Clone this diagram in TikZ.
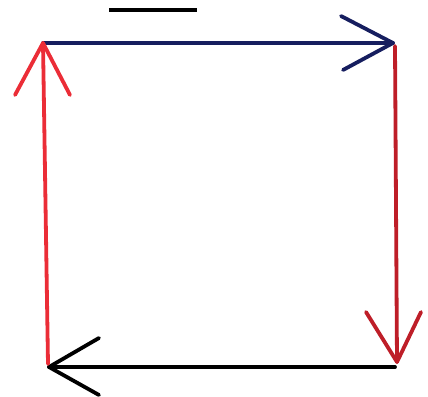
\documentclass[tikz,border=0pt]{standalone}
\definecolor{navyc}{RGB}{22,30,95}
\definecolor{darkredc}{RGB}{190,30,40}
\definecolor{brightredc}{RGB}{235,45,55}
\begin{document}
\begin{tikzpicture}[x=1pt,y=-1pt,
  edge/.style={line width=3.8pt,line cap=round,line join=round}]
\useasboundingbox (0,0) rectangle (428,396);
\coordinate (tl) at (43,43);
\coordinate (tr) at (393,43);
\coordinate (br) at (397,362);
\coordinate (bl) at (49,367);
\coordinate (barA) at (109,10);
\coordinate (barB) at (197,10);
% top bar
\draw[line width=4pt] (barA) -- (barB);
% top (blue)
\draw[edge,navyc] (tl) -- (tr);
\draw[edge,navyc] ([shift={(-52,-27)}]tr) -- (tr) -- ([shift={(-50,27)}]tr);
% right (dark red)
\draw[edge,darkredc] ([shift={(2,3)}]tr) -- (br);
\draw[edge,darkredc] ([shift={(-31,-50)}]br) -- (br) -- ([shift={(24,-50)}]br);
% bottom (black)
\draw[edge,black] ([shift={(-2,5)}]br) -- (bl);
\draw[edge,black] ([shift={(50,-29)}]bl) -- (bl) -- ([shift={(50,28)}]bl);
% left (bright red)
\draw[edge,brightredc] ([shift={(-1,-3)}]bl) -- (tl);
\draw[edge,brightredc] ([shift={(-28,52)}]tl) -- (tl) -- ([shift={(27,52)}]tl);
\end{tikzpicture}
\end{document}
